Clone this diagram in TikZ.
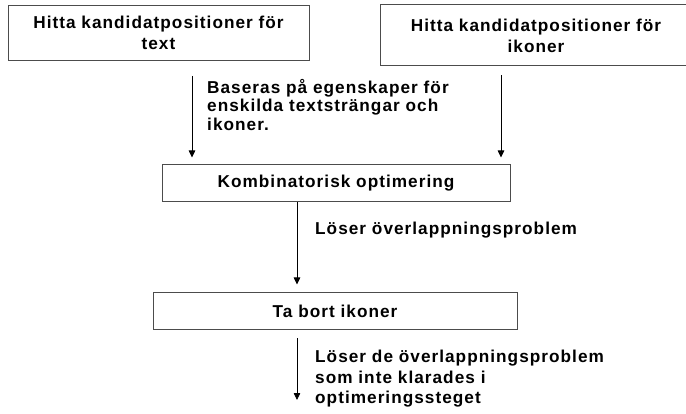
\documentclass[tikz,border=0pt]{standalone}
\usepackage{fontspec}
\setmainfont[LetterSpace=6]{Liberation Sans}
\usetikzlibrary{positioning, arrows.meta, calc}

\tikzset{
  stepbox/.style={draw=black!70, line width=1pt, align=center, inner sep=0pt},
  flowarrow/.style={-{Triangle[width=6.5pt, length=7pt]}, line width=0.8pt},
  notetext/.style={anchor=west, align=left, inner sep=0pt}
}

\begin{document}
\begin{tikzpicture}[x=1pt, y=-1pt, font=\bfseries\fontsize{17.2}{21}\selectfont]
        \useasboundingbox (0,0) rectangle (686,414);
        % steps
        \node[stepbox, minimum width=301pt, minimum height=55pt] (txt) at (158.5,33)
              {Hitta kandidatpositioner för\\text};
        \node[stepbox, minimum width=312pt, minimum height=61pt] (ikon) at (536,35.5)
              {Hitta kandidatpositioner för\\ikoner};
        \node[stepbox, minimum width=348pt, minimum height=37pt] (komb) at (336,183.5)
              {Kombinatorisk optimering};
        \node[stepbox, minimum width=364pt, minimum height=37pt] (tabort) at (335,311.5)
              {Ta bort ikoner};
        \coordinate (slut) at (297,400);
        % comments on the arrows
        \node[notetext, font=\bfseries\fontsize{17.2}{18.5}\selectfont] (n1) at (207,105)
              {Baseras på egenskaper för\\enskilda textsträngar och\\ikoner.};
        \node[notetext] (n2) at (315,230) {Löser överlappningsproblem};
        \node[notetext, font=\bfseries\fontsize{17.2}{20.5}\selectfont] (n3) at (315,379)
              {Löser de överlappningsproblem\\som inte klarades i\\optimeringssteget};
        % arrows
        \draw[flowarrow, shorten <=15pt, shorten >=7pt]
              ([xshift=33.5pt]txt.south) -- ([xshift=33.5pt]txt.south |- komb.north);
        \draw[flowarrow, shorten <=9pt, shorten >=7pt]
              ([xshift=-35pt]ikon.south) -- ([xshift=-35pt]ikon.south |- komb.north);
        \draw[flowarrow, shorten >=8pt]
              ([xshift=-39pt]komb.south) -- ([xshift=-39pt]komb.south |- tabort.north);
        \draw[flowarrow, shorten <=8pt]
              ([xshift=-38pt]tabort.south) -- (slut);
      \end{tikzpicture}
\end{document}
